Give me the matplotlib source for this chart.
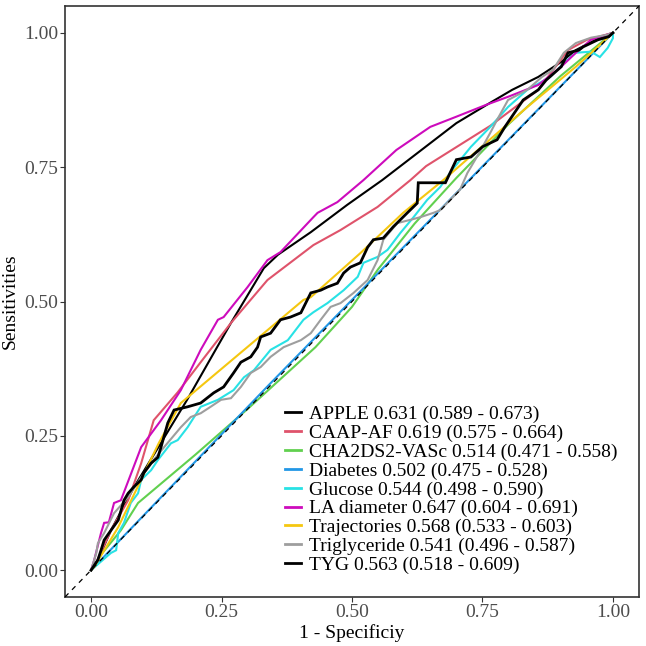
import matplotlib
matplotlib.use("Agg")
import matplotlib.pyplot as plt

# ---- data (1 - specificity, sensitivity) ----
apple_x = [0, 0.013, 0.038, 0.082, 0.134, 0.184, 0.235, 0.268, 0.331, 0.358, 0.421, 0.491, 0.558, 0.700, 0.765, 0.807, 0.857, 0.901, 0.929, 0.979, 1.0]
apple_y = [0, 0.019, 0.074, 0.154, 0.237, 0.317, 0.404, 0.460, 0.562, 0.587, 0.629, 0.680, 0.726, 0.832, 0.870, 0.894, 0.918, 0.946, 0.968, 0.993, 1.0]

caap_x = [0, 0.006, 0.038, 0.071, 0.096, 0.120, 0.166, 0.210, 0.268, 0.338, 0.426, 0.478, 0.549, 0.612, 0.642, 0.765, 0.857, 0.914, 0.950, 1.0]
caap_y = [0, 0.006, 0.074, 0.130, 0.199, 0.279, 0.331, 0.387, 0.460, 0.540, 0.605, 0.633, 0.676, 0.726, 0.752, 0.827, 0.894, 0.968, 0.987, 1.0]

cha_x = [0, 0.02, 0.057, 0.090, 0.20, 0.30, 0.43, 0.50, 0.55, 0.62, 0.70, 0.80, 0.90, 1.0]
cha_y = [0, 0.03, 0.074, 0.125, 0.215, 0.300, 0.415, 0.49, 0.56, 0.645, 0.73, 0.83, 0.92, 1.0]

diab_x = [0, 0.34, 1.0]
diab_y = [0, 0.344, 1.0]

glu_x = [0, 0.038, 0.048, 0.052, 0.063, 0.076, 0.090, 0.096, 0.115, 0.128, 0.153, 0.166, 0.185, 0.210, 0.243, 0.273, 0.293, 0.312, 0.344, 0.377, 0.407, 0.426, 0.453, 0.484, 0.511, 0.522, 0.549, 0.568, 0.593, 0.618, 0.644, 0.669, 0.692, 0.728, 0.765, 0.799, 0.836, 0.880, 0.906, 0.929, 0.958, 0.975, 0.990, 1.0, 1.0]
glu_y = [0, 0.032, 0.037, 0.069, 0.088, 0.125, 0.143, 0.168, 0.186, 0.205, 0.236, 0.242, 0.266, 0.304, 0.317, 0.335, 0.359, 0.372, 0.410, 0.428, 0.466, 0.480, 0.497, 0.521, 0.546, 0.572, 0.583, 0.596, 0.628, 0.657, 0.689, 0.713, 0.745, 0.788, 0.825, 0.862, 0.894, 0.918, 0.944, 0.963, 0.965, 0.955, 0.972, 0.990, 1.0]

la_x = [0, 0.006, 0.019, 0.025, 0.034, 0.044, 0.057, 0.063, 0.096, 0.134, 0.172, 0.210, 0.243, 0.254, 0.300, 0.338, 0.363, 0.426, 0.434, 0.472, 0.522, 0.585, 0.650, 0.700, 0.757, 0.799, 0.857, 0.901, 0.929, 0.958, 1.0]
la_y = [0, 0.019, 0.069, 0.088, 0.089, 0.125, 0.130, 0.145, 0.229, 0.279, 0.335, 0.410, 0.466, 0.471, 0.527, 0.577, 0.592, 0.657, 0.665, 0.685, 0.726, 0.782, 0.825, 0.844, 0.866, 0.881, 0.903, 0.937, 0.963, 0.987, 1.0]

traj_x = [0, 0.006, 0.052, 0.130, 0.172, 0.407, 0.421, 0.516, 0.598, 0.675, 0.836, 0.929, 0.979, 1.0]
traj_y = [0, 0.006, 0.080, 0.237, 0.311, 0.503, 0.508, 0.590, 0.665, 0.726, 0.862, 0.937, 0.981, 1.0]

tri_x = [0, 0.010, 0.013, 0.025, 0.044, 0.071, 0.096, 0.115, 0.140, 0.172, 0.191, 0.210, 0.229, 0.249, 0.268, 0.287, 0.306, 0.325, 0.344, 0.369, 0.402, 0.421, 0.440, 0.459, 0.478, 0.503, 0.530, 0.549, 0.560, 0.587, 0.612, 0.631, 0.656, 0.669, 0.688, 0.707, 0.721, 0.744, 0.765, 0.778, 0.799, 0.836, 0.864, 0.885, 0.906, 0.929, 0.958, 0.987, 1.0]
tri_y = [0, 0.032, 0.050, 0.069, 0.106, 0.136, 0.173, 0.199, 0.229, 0.266, 0.285, 0.292, 0.304, 0.317, 0.320, 0.341, 0.367, 0.378, 0.397, 0.415, 0.428, 0.441, 0.466, 0.490, 0.497, 0.516, 0.540, 0.577, 0.615, 0.646, 0.652, 0.657, 0.665, 0.670, 0.689, 0.708, 0.739, 0.777, 0.814, 0.838, 0.875, 0.894, 0.918, 0.931, 0.963, 0.981, 0.991, 0.996, 1.0]

tyg_x = [0, 0.013, 0.019, 0.025, 0.038, 0.052, 0.063, 0.071, 0.082, 0.096, 0.101, 0.115, 0.128, 0.134, 0.147, 0.159, 0.185, 0.210, 0.235, 0.254, 0.273, 0.287, 0.306, 0.319, 0.325, 0.344, 0.363, 0.382, 0.402, 0.421, 0.440, 0.453, 0.472, 0.484, 0.497, 0.516, 0.530, 0.541, 0.560, 0.579, 0.606, 0.625, 0.627, 0.679, 0.700, 0.728, 0.750, 0.778, 0.793, 0.828, 0.857, 0.872, 0.901, 0.914, 0.935, 0.943, 0.971, 0.992, 1.0]
tyg_y = [0, 0.019, 0.037, 0.056, 0.074, 0.093, 0.130, 0.143, 0.155, 0.168, 0.181, 0.199, 0.210, 0.229, 0.274, 0.298, 0.304, 0.311, 0.330, 0.341, 0.367, 0.387, 0.397, 0.415, 0.434, 0.441, 0.466, 0.471, 0.479, 0.516, 0.521, 0.527, 0.534, 0.553, 0.564, 0.572, 0.601, 0.615, 0.618, 0.639, 0.665, 0.683, 0.721, 0.721, 0.764, 0.769, 0.788, 0.801, 0.825, 0.875, 0.894, 0.912, 0.937, 0.963, 0.968, 0.974, 0.987, 0.993, 1.0]

labels = [
    "APPLE 0.631 (0.589 - 0.673)",
    "CAAP-AF 0.619 (0.575 - 0.664)",
    "CHA2DS2-VASc 0.514 (0.471 - 0.558)",
    "Diabetes 0.502 (0.475 - 0.528)",
    "Glucose 0.544 (0.498 - 0.590)",
    "LA diameter 0.647 (0.604 - 0.691)",
    "Trajectories 0.568 (0.533 - 0.603)",
    "Triglyceride 0.541 (0.496 - 0.587)",
    "TYG 0.563 (0.518 - 0.609)",
]
colors = ["#000000", "#DF536B", "#61D04F", "#2297E6", "#28E2E5",
          "#CD0BBC", "#F5C710", "#9E9E9E", "#000000"]
series = [(apple_x, apple_y), (caap_x, caap_y), (cha_x, cha_y), (diab_x, diab_y),
          (glu_x, glu_y), (la_x, la_y), (traj_x, traj_y), (tri_x, tri_y), (tyg_x, tyg_y)]
widths = [1.5, 1.5, 1.5, 1.5, 1.5, 1.5, 1.5, 1.5, 2.0]

plt.rcParams['font.family'] = ['Liberation Serif', 'DejaVu Serif']

fig = plt.figure(figsize=(6.46, 6.46), dpi=100)
ax = fig.add_axes([65/646, 49/646, 574/646, 591/646])

for (xs, ys), lab, c, w in zip(series, labels, colors, widths):
    ax.plot(xs, ys, color=c, lw=w, label=lab, solid_joinstyle='miter')

ax.plot([-0.05, 1.05], [-0.05, 1.05], color='black', lw=0.9, ls=(0, (4, 4)), zorder=5)

ax.set_xlim(-0.05, 1.05)
ax.set_ylim(-0.05, 1.05)
ticks = [0.0, 0.25, 0.5, 0.75, 1.0]
ax.set_xticks(ticks)
ax.set_yticks(ticks)
ax.set_xticklabels(["0.00", "0.25", "0.50", "0.75", "1.00"])
ax.set_yticklabels(["0.00", "0.25", "0.50", "0.75", "1.00"])
ax.tick_params(axis='both', labelsize=14, labelcolor='#4D4D4D', length=3.5,
               width=0.8, pad=1.5, color='#333333')
for s in ax.spines.values():
    s.set_linewidth(1.2)
    s.set_color('#333333')
ax.set_xlabel("1 - Specificiy", fontsize=14, labelpad=2)
ax.set_ylabel("Sensitivities", fontsize=14, labelpad=4)

leg = ax.legend(loc='upper left', bbox_to_anchor=(0.383, 0.324), frameon=False,
                fontsize=14, handlelength=0.82, handletextpad=0.41,
                labelspacing=0.06, borderpad=0, borderaxespad=0)
for h in leg.get_lines():
    h.set_linewidth(2.0)

fig.savefig("out.png", dpi=100)
